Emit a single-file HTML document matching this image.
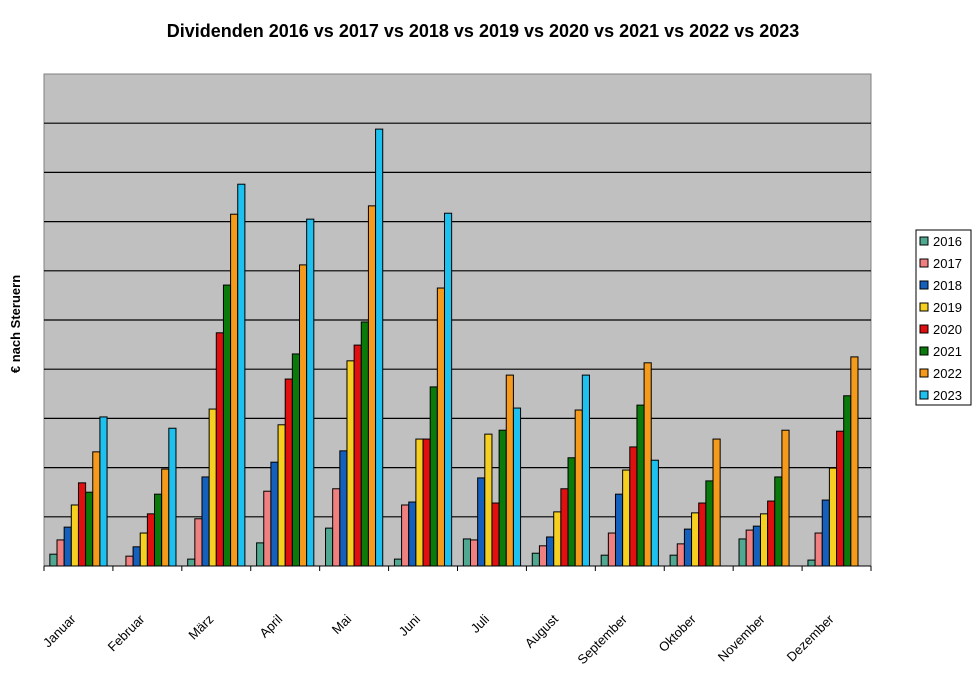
<!DOCTYPE html>
<html><head><meta charset="utf-8"><style>
body{margin:0;background:#fff;font-family:"Liberation Sans",Arial,sans-serif}
svg{display:block}
</style></head><body>
<svg id="chart" width="974" height="685">
<text x="483" y="37" text-anchor="middle" font-size="18" font-weight="bold">Dividenden 2016 vs 2017 vs 2018 vs 2019 vs 2020 vs 2021 vs 2022 vs 2023</text>
<text transform="translate(20,324) rotate(-90)" text-anchor="middle" font-size="13" font-weight="bold">€ nach Steruern</text>
<rect x="44" y="74" width="827" height="492" fill="#c0c0c0" stroke="#808080"/>
<g id="grid"></g><g id="bars"></g><g id="xaxis"></g><g id="legend"></g>
</svg>
<script>
const months=["Januar","Februar","März","April","Mai","Juni","Juli","August","September","Oktober","November","Dezember"];
const years=["2016","2017","2018","2019","2020","2021","2022","2023"];
const colors=["#4fa88f","#f08080","#1560bd","#f5d020","#e01010","#0a7a0a","#f59a1a","#1ec0f0"];
const v2016=[0.24,0,0.14,0.47,0.77,0.14,0.55,0.26,0.22,0.22,0.55,0.12];
const v2017=[0.53,0.2,0.96,1.52,1.57,1.24,0.53,0.41,0.67,0.45,0.73,0.67];
const v2018=[0.79,0.39,1.81,2.11,2.34,1.3,1.79,0.59,1.46,0.75,0.81,1.34];
const v2019=[1.24,0.67,3.19,2.87,4.17,2.58,2.68,1.1,1.95,1.08,1.06,1.99];
const v2020=[1.69,1.06,4.74,3.8,4.49,2.58,1.28,1.57,2.42,1.28,1.32,2.74];
const v2021=[1.5,1.46,5.71,4.31,4.96,3.64,2.76,2.2,3.27,1.73,1.81,3.46];
const v2022=[2.32,1.97,7.15,6.12,7.32,5.65,3.88,3.17,4.13,2.58,2.76,4.25];
const v2023=[3.03,2.8,7.76,7.05,8.88,7.17,3.21,3.88,2.15,0,0,0];
const series=[v2016,v2017,v2018,v2019,v2020,v2021,v2022,v2023];
const yMax=10, gridSteps=10;
const X0=44,W=827,Y0=566,H=492;
const NS="http://www.w3.org/2000/svg";
const yS=v=>Y0-v/yMax*H;
const cw=W/months.length;
function mk(t,a,p){const e=document.createElementNS(NS,t);for(const k in a)e.setAttribute(k,a[k]);p.appendChild(e);return e;}
const grid=document.getElementById('grid');
for(let i=1;i<gridSteps;i++){
 const y=yS(i*yMax/gridSteps);
 const l=mk('line',{x1:X0,x2:X0+W,y1:y,y2:y,stroke:'#000','stroke-width':1.2},grid);
 
 
}
const bars=document.getElementById('bars');
const bw=cw*0.83/years.length;
months.forEach((m,i)=>{
 const gx=X0+i*cw+(cw-bw*years.length)/2;
 series.forEach((s,j)=>{
  const v=s[i]; if(!v)return;
  const r=mk('rect',{x:gx+j*bw,y:yS(v),width:bw,height:Y0-yS(v),fill:colors[j],stroke:'#000','stroke-width':1},bars);
  
  
 });
});
const xa=document.getElementById('xaxis');
const ax=mk('line',{x1:X0,x2:X0+W,y1:Y0,y2:Y0,stroke:'#000'},xa);


for(let i=0;i<=months.length;i++){
 const x=X0+i*cw;
 const t=mk('line',{x1:x,x2:x,y1:Y0,y2:Y0+5,stroke:'#000'},xa);
 
 
}
months.forEach((m,i)=>{
 const cx=X0+(i+0.5)*cw;
 const t=mk('text',{transform:`translate(${cx-2},${620}) rotate(-45)`,'text-anchor':'end','font-size':13},xa);
 t.textContent=m;
 
 
});
const lg=document.getElementById('legend');
const box=mk('rect',{x:916,y:230,width:55,height:175,fill:'#fff',stroke:'#000'},lg);


years.forEach((y,j)=>{
 const cy=241+j*22;
 const s=mk('rect',{x:920,y:cy-4,width:8,height:8,fill:colors[j],stroke:'#000'},lg);
 
 
 const t=mk('text',{x:933,y:cy+5,'font-size':13},lg);
 t.textContent=y;
 
 
});
</script>
</body></html>
